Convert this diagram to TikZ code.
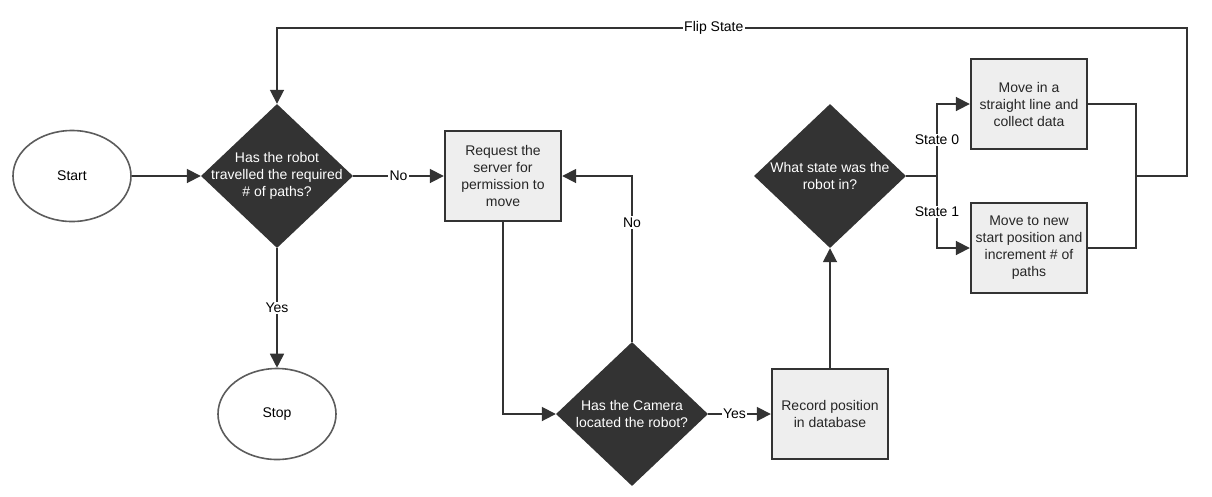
\documentclass[tikz,border=0pt]{standalone}
\usepackage{fontspec}
\setmainfont{Liberation Sans}
\usetikzlibrary{shapes.geometric,arrows.meta}

\definecolor{ink}{HTML}{333333}
\definecolor{boxfill}{HTML}{EEEEEE}
\definecolor{rim}{HTML}{5C5C5C}

\tikzset{
    terminal/.style={ellipse, draw=rim, line width=1.6pt, fill=white,
        minimum width=118pt, minimum height=91pt},
    process/.style={rectangle, draw=ink, line width=2.4pt, fill=boxfill,
        minimum width=116pt, minimum height=90pt, align=center, text=black!85},
    decision/.style={diamond, fill=ink, inner sep=0pt,
        minimum width=152pt, minimum height=144pt},
    decisiontext/.style={text=white, align=center},
    link/.style={draw=ink, line width=1.8pt},
    flow/.style={link, -{Triangle[length=14pt,width=14pt]}},
    choice/.style={fill=white, inner sep=1.5pt}
}

\begin{document}
\begin{tikzpicture}[x=1pt, y=-1pt,
    every node/.append style={font=\fontsize{14}{17}\selectfont}]

    \useasboundingbox (0,0) rectangle (1212,496);

    %% Flowchart of the robot run

    % Start and stop
    \node [terminal] (start) at (72,176) {Start};
    \node [terminal] (stop) at (277,414) {Stop};

    % Decisions
    \node [decision] (travelled) at (277,176) {};
    \node [decisiontext] (travelledtxt) at (travelled) {Has the robot\\travelled the required\\\# of paths?};
    \node [decision] (camera) at (632,414) {};
    \node [decisiontext] (cameratxt) at (camera) {Has the Camera\\located the robot?};
    \node [decision] (state) at (830,176) {};
    \node [decisiontext] (statetxt) at (state) {What state was the\\robot in?};

    % Processes
    \node [process] (request) at (503,176) {Request the\\server for\\permission to\\move};
    \node [process] (record) at (830,414) {Record position\\in database};
    \node [process] (straight) at (1029,104) {Move in a\\straight line and\\collect data};
    \node [process] (increment) at (1029,248) {Move to new\\start position and\\increment \# of\\paths};

    % Junctions
    \coordinate (fork) at (937,176);
    \coordinate (merge) at (1136,176);
    \coordinate (flipturn) at (1187,28);

    % Main line
    \draw [flow] (start.east) -- (travelled.west);
    \draw [flow] (travelled.east) -- node [choice] {No} (request.west);
    \draw [flow] (travelled.south) -- node [choice] {Yes} (stop.north);
    \draw [flow] (request.south) |- (camera.west);
    \draw [flow] (camera.north) |- node [choice, pos=0.36] {No} (request.east);
    \draw [flow] (camera.east) -- node [choice, pos=0.42] {Yes} (record.west);
    \draw [flow] (record.north) -- (state.south);

    % State branches
    \draw [link] (state.east) -- (fork);
    \draw [flow] (fork) |- node [choice, pos=0.25] {State 0} (straight.west);
    \draw [flow] (fork) |- node [choice, pos=0.25] {State 1} (increment.west);
    \draw [link] (straight.east) -| (merge);
    \draw [link] (increment.east) -| (merge);

    % Back to the start
    \draw [flow] (merge) -| (flipturn)
        -- node [choice, pos=0.52] {Flip State} (travelled.north |- flipturn)
        -- (travelled.north);

\end{tikzpicture}
\end{document}
